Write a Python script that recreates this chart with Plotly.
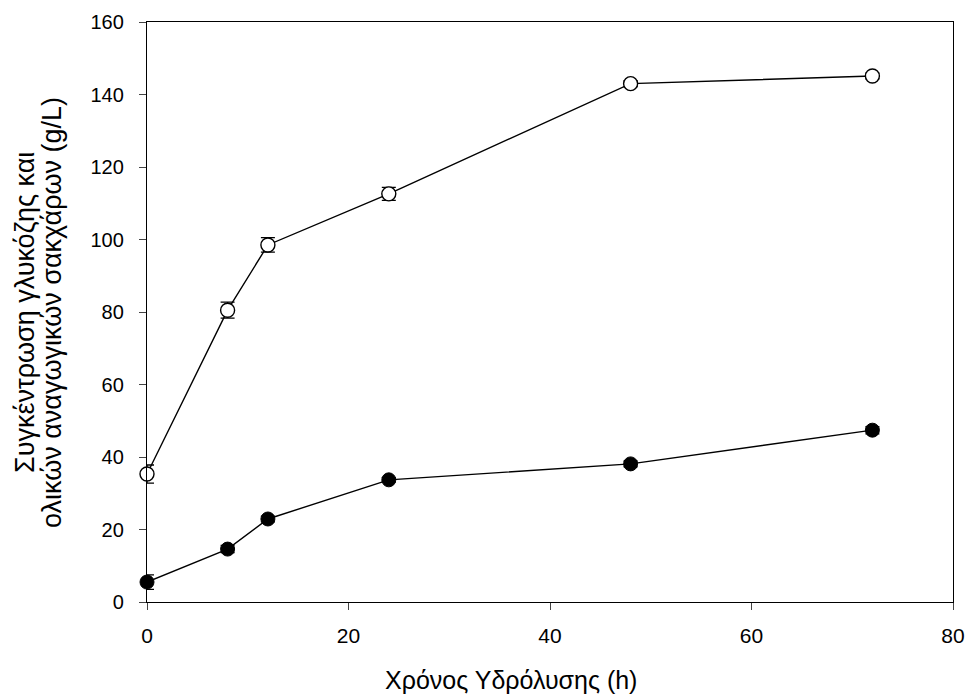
import plotly.graph_objects as go

time_h = [0, 8, 12, 24, 48, 72]
total_reducing = [35.3, 80.5, 98.5, 112.6, 143.0, 145.1]
total_err = [2.5, 2.2, 2.0, 1.8, 0.8, 0.8]
glucose = [5.5, 14.6, 22.9, 33.7, 38.1, 47.4]
glucose_err = [2.0, 1.0, 0.8, 0.6, 0.8, 1.0]

x_ticks = [0, 20, 40, 60, 80]
y_ticks = [0, 20, 40, 60, 80, 100, 120, 140, 160]

x_title = "Χρόνος Υδρόλυσης (h)"
y_title_1 = "Συγκέντρωση γλυκόζης και"
y_title_2 = "ολικών αναγωγικών σακχάρων (g/L)"

fig = go.Figure()
fig.add_trace(go.Scatter(
    x=time_h, y=total_reducing, mode="lines+markers",
    line=dict(color="black", width=1.4),
    marker=dict(symbol="circle", size=14, color="white", line=dict(color="black", width=1.4)),
    error_y=dict(type="data", array=total_err, color="black", thickness=1.3, width=7),
    cliponaxis=False, showlegend=False))
fig.add_trace(go.Scatter(
    x=time_h, y=glucose, mode="lines+markers",
    line=dict(color="black", width=1.4),
    marker=dict(symbol="circle", size=14, color="black", line=dict(color="black", width=1)),
    error_y=dict(type="data", array=glucose_err, color="black", thickness=1.3, width=7),
    cliponaxis=False, showlegend=False))

font = "Liberation Sans, Arial, sans-serif"
L, R, T, B = 147, 12, 22, 95
W, H = 965, 697
pw, ph = W - L - R, H - T - B

def px_x(p):
    return (p - L) / pw

def px_y(p):
    return (H - B - p) / ph

fig.update_layout(
    width=W, height=H,
    margin=dict(l=L, r=R, t=T, b=B, autoexpand=False),
    plot_bgcolor="white", paper_bgcolor="white",
    font=dict(family=font, color="black", size=16),
    xaxis=dict(range=[0, 80], tickvals=x_ticks, ticks="outside", ticklen=7, tickwidth=1.2,
               showline=True, linecolor="black", linewidth=1.3, mirror=True,
               showgrid=False, zeroline=False, ticklabelstandoff=8, automargin=False,
               tickfont=dict(size=21)),
    yaxis=dict(range=[0, 160], tickvals=y_ticks, ticks="outside", ticklen=7, tickwidth=1.2,
               showline=True, linecolor="black", linewidth=1.3, mirror=True,
               showgrid=False, zeroline=False, ticklabelstandoff=11, automargin=False,
               tickfont=dict(size=20)),
    annotations=[
        dict(text=x_title, xref="paper", yref="paper", x=px_x(511), y=px_y(680),
             xanchor="center", yanchor="middle", showarrow=False, font=dict(size=25)),
        dict(text=y_title_1, xref="paper", yref="paper", x=px_x(25), y=px_y(313),
             xanchor="center", yanchor="middle", textangle=-90, showarrow=False,
             font=dict(size=27)),
        dict(text=y_title_2, xref="paper", yref="paper", x=px_x(52), y=px_y(313),
             xanchor="center", yanchor="middle", textangle=-90, showarrow=False,
             font=dict(size=27)),
    ],
)
fig.write_html("out.html")
